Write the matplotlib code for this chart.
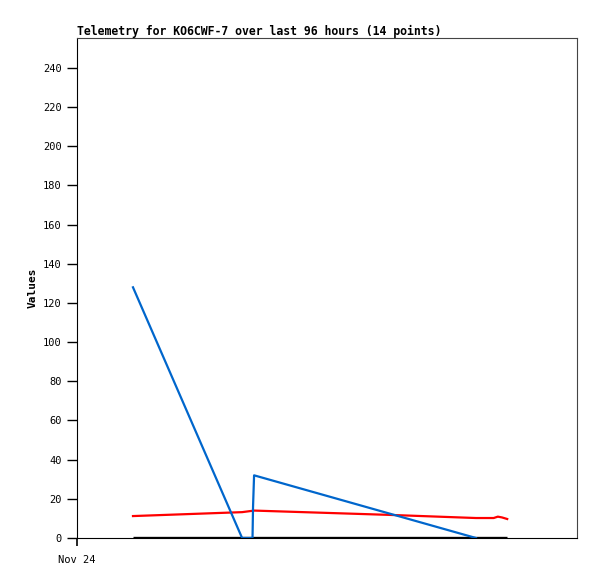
#!/usr/bin/env python

import matplotlib
matplotlib.use("Agg")
from matplotlib import pyplot


# data (hours after Nov 24 00:00)

blue_t = [10.75, 31.7, 33.7, 33.8, 34.0, 76.6]
blue_v = [128.0, 0.0, 0.0, 16.0, 32.0, 0.0]

red_t = [10.75, 31.7, 34.0, 60.0, 76.6, 80.0, 80.8, 81.6, 82.6]
red_v = [11.2, 13.2, 14.0, 11.8, 10.2, 10.2, 10.9, 10.5, 9.7]

black_t = [10.75, 82.6]
black_v = [0.0, 0.0]

yticks = [0, 20, 40, 60, 80, 100, 120, 140, 160, 180, 200, 220, 240]
xticks = [0.0]
xticklabels = ["Nov 24"]

title = "Telemetry for KO6CWF-7 over last 96 hours (14 points)"

# figure

W, H = 597, 579
fig = pyplot.figure(figsize=(W / 100, H / 100), dpi=100)
ax = fig.add_axes([77 / W, (H - 538) / H, 500 / W, 500 / H])

mono = "DejaVu Sans Mono"

ax.plot(black_t, black_v, color="black", lw=2.4, solid_capstyle="butt")
ax.plot(red_t, red_v, color="#ff0000", lw=1.6)
ax.plot(blue_t, blue_v, color="#0066cc", lw=1.6)

ax.set_xlim(0, 96)
ax.set_ylim(0, 255.3)

ax.set_yticks(yticks)
ax.set_yticklabels([str(v) for v in yticks], fontfamily=mono, fontsize=7.5)
ax.set_xticks(xticks)
ax.set_xticklabels(xticklabels, fontfamily=mono, fontsize=7.5)
ax.tick_params(axis="y", direction="out", length=7, width=1, pad=4)
ax.tick_params(axis="x", direction="out", length=6, width=1.2, pad=6,
               color="black")

for s in ("top", "right"):
    ax.spines[s].set_color("#444444")
for s in ("left", "bottom"):
    ax.spines[s].set_color("black")

ax.set_ylabel("Values", fontfamily=mono, fontweight="bold", fontsize=8)
ax.yaxis.set_label_coords(-0.078, 0.5)

fig.text(77 / W, 1 - 31 / H, title, fontfamily=mono, fontweight="bold",
         fontsize=8.3, va="center", ha="left")

fig.savefig("out.png", dpi=100)
